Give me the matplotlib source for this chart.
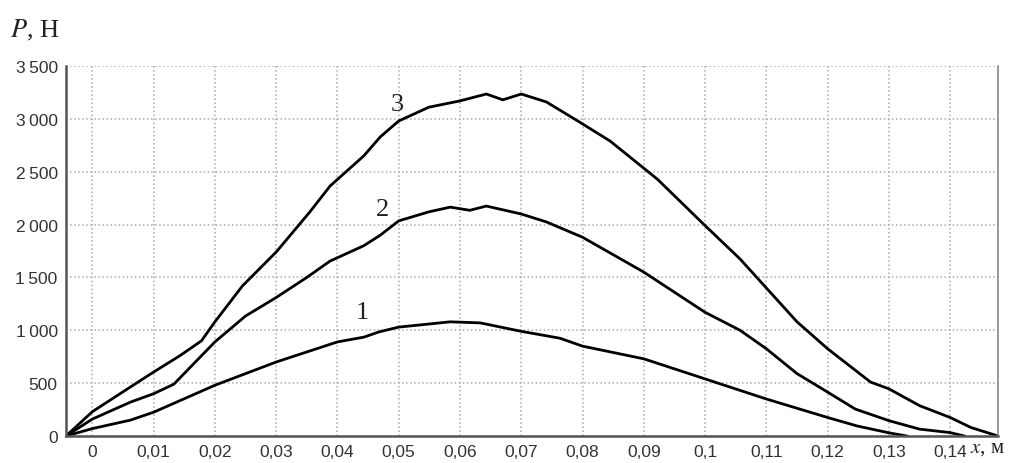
import matplotlib.pyplot as plt
from matplotlib.ticker import FuncFormatter

plt.rcParams['mathtext.fontset'] = 'stix'

# значения
x3 = [-0.0043, 0.0, 0.0062, 0.01, 0.0143, 0.0178, 0.02, 0.0245, 0.03, 0.0355, 0.0388,
      0.0443, 0.047, 0.05, 0.0549, 0.06, 0.0643, 0.067, 0.07, 0.0741, 0.0795, 0.0845,
      0.0922, 0.1, 0.1057, 0.11, 0.115, 0.12, 0.127, 0.13, 0.135, 0.14, 0.1434, 0.1478]
p3 = [0, 230, 463, 605, 760, 900, 1080, 1420, 1740, 2120, 2365,
      2650, 2830, 2980, 3110, 3170, 3235, 3180, 3235, 3160, 2970, 2790,
      2430, 1990, 1675, 1400, 1080, 825, 510, 446, 287, 175, 80, 0]

x2 = [-0.0043, 0.0, 0.0062, 0.01, 0.0133, 0.02, 0.025, 0.03, 0.035, 0.0388, 0.0443, 0.047,
      0.05, 0.0549, 0.0584, 0.0616, 0.0643, 0.07, 0.0741, 0.08, 0.09, 0.1, 0.1057,
      0.11, 0.115, 0.12, 0.1245, 0.13, 0.135, 0.14, 0.1423]
p2 = [0, 160, 320, 400, 490, 890, 1135, 1310, 1500, 1655, 1800, 1900,
      2035, 2120, 2165, 2135, 2175, 2100, 2025, 1880, 1550, 1170, 1000,
      825, 590, 415, 255, 145, 65, 32, 0]

x1 = [-0.0043, 0.0, 0.0062, 0.01, 0.02, 0.03, 0.04, 0.0443, 0.0468, 0.05, 0.0584, 0.0633,
      0.07, 0.0763, 0.08, 0.09, 0.0958, 0.1, 0.11, 0.12, 0.1248, 0.13, 0.1329]
p1 = [0, 70, 150, 225, 480, 700, 890, 935, 985, 1030, 1080, 1070,
      990, 925, 850, 730, 620, 540, 350, 175, 95, 30, 0]

curves = [(x1, p1, '1', 0.044, 1173), (x2, p2, '2', 0.0473, 2147), (x3, p3, '3', 0.0498, 3140)]

x_ticks = [0, 0.01, 0.02, 0.03, 0.04, 0.05, 0.06, 0.07, 0.08, 0.09, 0.1, 0.11, 0.12, 0.13, 0.14]
y_ticks = [0, 500, 1000, 1500, 2000, 2500, 3000, 3500]

fig = plt.figure(figsize=(10.2, 4.64), dpi=100)
ax = fig.add_axes([66 / 1020, 27 / 464, 932 / 1020, 370 / 464])

for xs, ps, name, lx, ly in curves:
    ax.plot(xs, ps, color='black', lw=2.0, solid_joinstyle='round')
    ax.text(lx, ly, name, fontsize=19, family='Liberation Serif', color='#222',
            ha='center', va='center')

ax.set_xlim(-0.0043, 0.1478)
ax.set_ylim(0, 3500)
ax.set_xticks(x_ticks)
ax.set_yticks(y_ticks)


def fmt_x(v, pos):
    return ('%g' % round(v, 2)).replace('.', ',')


def fmt_y(v, pos):
    v = int(round(v))
    if v >= 1000:
        return '%d\u2009%03d' % (v // 1000, v % 1000)
    return str(v)


ax.xaxis.set_major_formatter(FuncFormatter(fmt_x))
ax.yaxis.set_major_formatter(FuncFormatter(fmt_y))
ax.tick_params(length=0, labelsize=12.5, labelcolor='#333', pad=6)
for lab in ax.get_xticklabels() + ax.get_yticklabels():
    lab.set_family(['Liberation Sans', 'DejaVu Sans'])

ax.grid(True, color='#aaa', linestyle=':', lw=1.1)
ax.set_axisbelow(True)
ax.spines['top'].set_visible(False)
ax.spines['left'].set_color('#555')
ax.spines['left'].set_linewidth(1.8)
ax.spines['bottom'].set_color('#555')
ax.spines['bottom'].set_linewidth(1.8)
ax.spines['right'].set_color('#888')
ax.spines['right'].set_linewidth(1.2)

fig.text(10 / 1020, 1 - 30 / 464, r'$P$, Н', fontsize=19, family='Liberation Serif',
         va='center', ha='left', color='#222')
fig.text(970 / 1020, 1 - 449 / 464, r'$x$, м', fontsize=15, family='Liberation Serif',
         va='center', ha='left', color='#222')

fig.savefig('out.png', dpi=100)
